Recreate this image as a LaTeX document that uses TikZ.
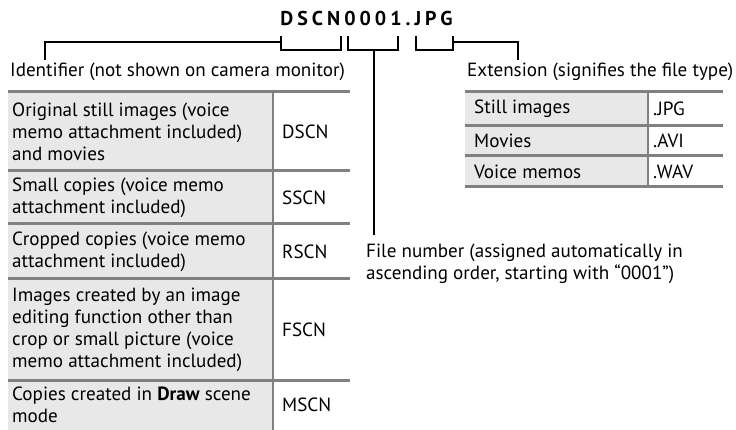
\documentclass[tikz,border=0pt]{standalone}
\usepackage{fontspec}
\setmainfont{PT Sans}
\definecolor{rulegray}{RGB}{128,128,128}
\definecolor{cellgray}{RGB}{232,232,232}
\begin{document}
\begin{tikzpicture}[x=1pt,y=-1pt,
  txt/.style={inner sep=0pt, anchor=west, align=left, font=\fontsize{19.1}{22}\selectfont},
  codetxt/.style={inner sep=0pt, anchor=west, font=\fontsize{19.1}{22}\selectfont},
  hrule/.style={draw=rulegray, line width=3pt},
  vrule/.style={draw=rulegray, line width=2.5pt},
  brk/.style={draw=black, line width=1.6pt}]
\useasboundingbox (0,0) rectangle (736,430);
% left table
\fill[cellgray] (8,92) rectangle (273,430);
\foreach \y in {92,171,224,279,380} \draw[hrule] (8,\y) -- (350,\y);
\draw[vrule] (273,92) -- (273,430);
% right table
\fill[cellgray] (465,92) rectangle (648,187);
\foreach \y in {92,126,156,187} \draw[hrule] (465,\y) -- (723,\y);
\draw[vrule] (648,92) -- (648,187);
% title
\node[inner sep=0pt, font={\fontsize{20}{24}\selectfont\bfseries\addfontfeatures{LetterSpace=20}}] (title) at (366.5,19) {DSCN0001.JPG};
% labels
\node[txt] (idl) at (10,72) {Identifier (not shown on camera monitor)};
\node[txt] (extl) at (467,72) {Extension (signifies the file type)};
\node[txt] (fnl) at (366,263.5) {File number (assigned automatically in\\ascending order, starting with “0001”)};
% left table texts
\node[txt] (r1) at (12,131.5) {Original still images (voice\\memo attachment included)\\and movies};
\node[codetxt] (c1) at (282,131.5) {DSCN};
\node[txt] (r2) at (12,197.5) {Small copies (voice memo\\attachment included)};
\node[codetxt] (c2) at (282,197.5) {SSCN};
\node[txt] (r3) at (12,251.5) {Cropped copies (voice memo\\attachment included)};
\node[codetxt] (c3) at (282,251.5) {RSCN};
\node[txt] (r4) at (12,329.5) {Images created by an image\\editing function other than\\crop or small picture (voice\\memo attachment included)};
\node[codetxt] (c4) at (282,329.5) {FSCN};
\node[txt] (r5) at (12,405) {Copies created in \textbf{Draw} scene\\mode};
\node[codetxt] (c5) at (282,405) {MSCN};
% right table texts
\node[codetxt] (e1) at (474,109) {Still images};
\node[codetxt] (x1) at (653,109) {.JPG};
\node[codetxt] (e2) at (474,141) {Movies};
\node[codetxt] (x2) at (653,141) {.AVI};
\node[codetxt] (e3) at (474,171.5) {Voice memos};
\node[codetxt] (x3) at (653,171.5) {.WAV};
% brackets
\coordinate (idL) at (281,36); \coordinate (idR) at (341,36);
\coordinate (idj) at (281,42); \coordinate (idend) at (45,60);
\draw[brk] (idL) -- ++(0,14) -| (idR);
\draw[brk] (idj) -| (idend);
\coordinate (fnL) at (348,36); \coordinate (fnR) at (398,36);
\coordinate (fnm) at (374,50); \coordinate (fnend) at (374,235);
\draw[brk] (fnL) -- ++(0,14) -| (fnR);
\draw[brk] (fnm) -- (fnend);
\coordinate (exL) at (416,36); \coordinate (exR) at (453,36);
\coordinate (exj) at (453,42); \coordinate (exend) at (518,60);
\draw[brk] (exL) -- ++(0,14) -| (exR);
\draw[brk] (exj) -| (exend);
\end{tikzpicture}
\end{document}
